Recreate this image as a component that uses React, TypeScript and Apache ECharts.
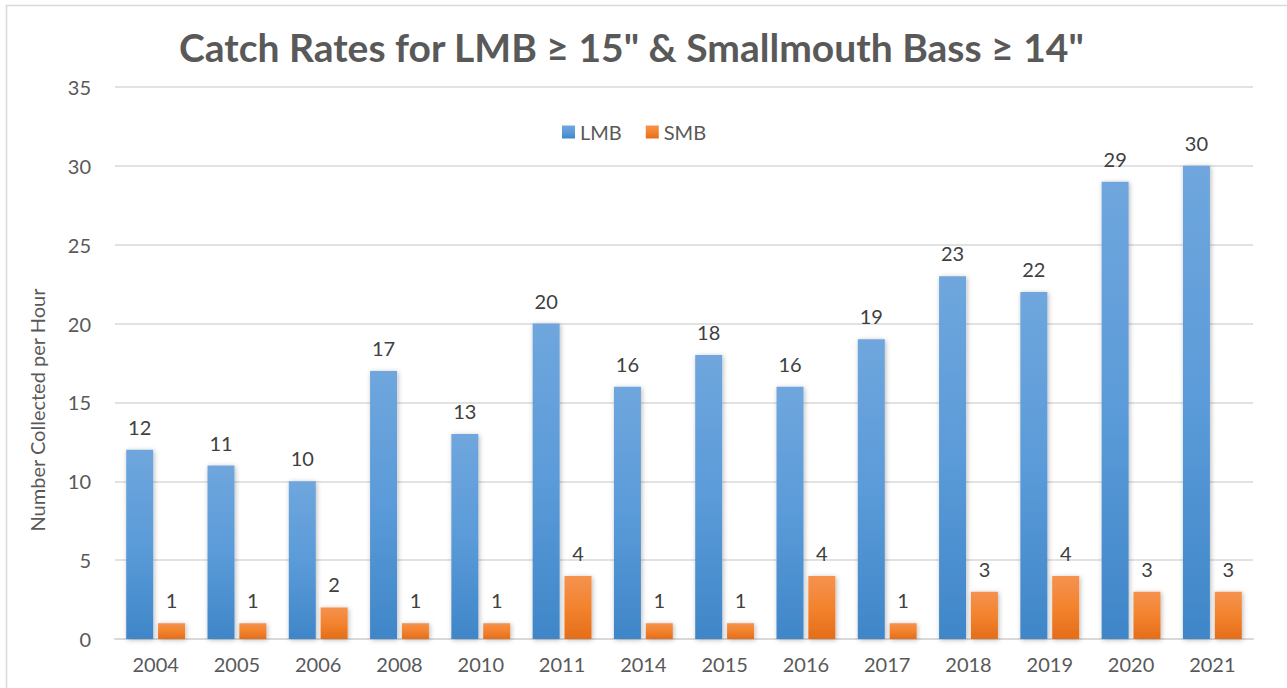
import React, { useEffect, useRef } from "react";
import * as echarts from "echarts";

const categories = ["2004", "2005", "2006", "2008", "2010", "2011", "2014", "2015", "2016", "2017", "2018", "2019", "2020", "2021"];
const lmbValues = [12, 11, 10, 17, 13, 20, 16, 18, 16, 19, 23, 22, 29, 30];
const smbValues = [1, 1, 2, 1, 1, 4, 1, 1, 4, 1, 3, 4, 3, 3];
const seriesNames = ["LMB", "SMB"];
const titleText = "Catch Rates for LMB \u2265 15\" & Smallmouth Bass \u2265 14\"";
const yAxisName = "Number Collected per Hour";

const FONT = "Lato, 'Open Sans', sans-serif";

export default function App() {
  const ref = useRef<HTMLDivElement>(null);
  useEffect(() => {
    if (!ref.current) return;
    const chart = echarts.init(ref.current, undefined, { renderer: "svg" });
    const blue = new echarts.graphic.LinearGradient(0, 0, 0, 1, [
      { offset: 0, color: "#6fa6dd" },
      { offset: 0.5, color: "#5b9bd9" },
      { offset: 1, color: "#3f86c8" },
    ]);
    const orange = new echarts.graphic.LinearGradient(0, 0, 0, 1, [
      { offset: 0, color: "#f5924f" },
      { offset: 0.5, color: "#f3832e" },
      { offset: 1, color: "#e56d19" },
    ]);
    const shadow = {
      shadowBlur: 5,
      shadowColor: "rgba(0,0,0,0.28)",
      shadowOffsetX: 1,
      shadowOffsetY: 1,
    };
    const labelStyle = {
      show: true,
      position: "top" as const,
      distance: 13,
      color: "#404040",
      fontSize: 20,
      fontFamily: FONT,
    };
    chart.setOption({
      animation: false,
      backgroundColor: "#ffffff",
      textStyle: { fontFamily: FONT },
      title: {
        text: titleText,
        left: 174,
        top: 22,
        textStyle: { fontSize: 39, fontWeight: "bold", color: "#595959", fontFamily: FONT },
      },
      legend: {
        data: seriesNames,
        top: 117,
        left: 557,
        itemWidth: 13,
        itemHeight: 13,
        itemGap: 24,
        icon: "rect",
        textStyle: { fontSize: 20, color: "#595959", fontFamily: FONT },
      },
      grid: { left: 115, right: 34, top: 87, bottom: 49, containLabel: false },
      xAxis: {
        type: "category",
        data: categories,
        axisLine: { lineStyle: { color: "#d9d9d9", width: 2 } },
        axisTick: { show: false },
        axisLabel: { color: "#595959", fontSize: 20, margin: 15, fontFamily: FONT },
      },
      yAxis: {
        type: "value",
        min: 0,
        max: 35,
        interval: 5,
        axisLine: { show: false },
        axisTick: { show: false },
        axisLabel: { color: "#595959", fontSize: 20, margin: 24, fontFamily: FONT },
        splitLine: { lineStyle: { color: "#d9d9d9", width: 1.5 } },
      },
      series: [
        {
          name: seriesNames[0],
          type: "bar",
          data: lmbValues,
          barWidth: 27,
          barGap: "18%",
          itemStyle: { color: blue, ...shadow },
          label: labelStyle,
        },
        {
          name: seriesNames[1],
          type: "bar",
          data: smbValues,
          barWidth: 27,
          itemStyle: { color: orange, ...shadow },
          label: labelStyle,
        },
      ],
      graphic: [
        {
          type: "rect",
          shape: { x: 6.5, y: 5.5, width: 1300, height: 700 },
          style: { fill: "none", stroke: "#d9d9d9", lineWidth: 1.5 },
          silent: true,
        },
        {
          type: "text",
          x: 37,
          y: 410,
          rotation: Math.PI / 2,
          style: {
            text: yAxisName,
            fill: "#595959",
            fontSize: 20,
            fontFamily: FONT,
            align: "center",
            verticalAlign: "middle",
          },
        },
      ],
    });
    return () => chart.dispose();
  }, []);
  return (
    <div
      ref={ref}
      style={{ position: "fixed", left: 0, top: 0, width: 1287, height: 688 }}
    />
  );
}
